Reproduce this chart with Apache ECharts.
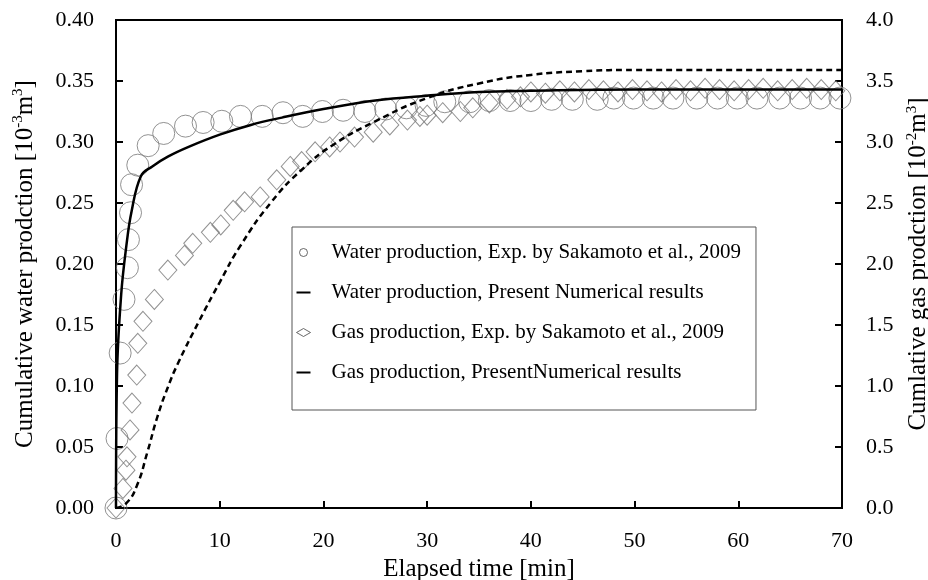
<!DOCTYPE html>
<html>
<head>
<meta charset="utf-8">
<title>Cumulative water and gas production</title>
<script src="https://cdn.jsdelivr.net/npm/echarts@6/dist/echarts.min.js"></script>
<style>
  html, body { margin: 0; padding: 0; background: #fff; }
  #chart { width: 928px; height: 580px; }
</style>
</head>
<body>
<div id="chart"></div>
<script>
// Water production, experiment (Sakamoto et al., 2009) - left axis [10^-3 m3]
const waterExpTime = [0, 0.1, 0.4, 0.77, 1.1, 1.2, 1.4, 1.5, 2.1, 3.1, 4.6, 6.7, 8.4, 10.2, 12.0, 14.1, 16.1, 18.0, 19.9, 21.9, 24.0, 26.0, 28.0, 29.9, 31.7, 34.1, 36.0, 38.0, 40.0, 42.0, 44.0, 46.4, 48.0, 49.9, 51.8, 53.7, 56.0, 58.0, 59.9, 61.8, 64.0, 66.0, 67.9, 69.8];
const waterExpValue = [0, 0.057, 0.127, 0.171, 0.197, 0.220, 0.242, 0.265, 0.281, 0.297, 0.307, 0.313, 0.316, 0.317, 0.321, 0.321, 0.324, 0.321, 0.325, 0.326, 0.325, 0.327, 0.328, 0.330, 0.333, 0.333, 0.334, 0.334, 0.334, 0.335, 0.335, 0.335, 0.336, 0.336, 0.336, 0.336, 0.336, 0.336, 0.336, 0.336, 0.336, 0.336, 0.336, 0.336];

// Water production, present numerical results - left axis
const waterNumTime = [0, 0.1, 0.5, 1.0, 1.5, 2.4, 3.5, 5, 7, 10, 13, 16, 20, 25, 30, 35, 40, 50, 60, 70];
const waterNumValue = [0, 0.11, 0.175, 0.215, 0.243, 0.272, 0.280, 0.288, 0.296, 0.306, 0.314, 0.320, 0.327, 0.334, 0.338, 0.341, 0.342, 0.343, 0.343, 0.343];

// Gas production, experiment - right axis [10^-2 m3]
const gasExpTime = [0, 0.67, 0.96, 1.06, 1.35, 1.54, 2.0, 2.1, 2.6, 3.7, 5.0, 6.6, 7.4, 9.1, 10.1, 11.3, 12.4, 13.9, 15.5, 16.8, 17.9, 19.2, 20.6, 21.6, 23.0, 24.8, 26.4, 28.1, 29.3, 30.0, 31.5, 33.2, 34.4, 36.0, 37.7, 39.0, 40.0, 41.4, 42.8, 44.2, 45.6, 47.0, 48.4, 49.8, 51.2, 52.6, 54.0, 55.4, 56.8, 58.2, 59.6, 61.0, 62.4, 63.8, 65.2, 66.6, 68.0, 69.4];
const gasExpValue = [0, 0.16, 0.31, 0.42, 0.64, 0.86, 1.09, 1.35, 1.53, 1.71, 1.95, 2.07, 2.17, 2.26, 2.32, 2.44, 2.51, 2.55, 2.69, 2.80, 2.84, 2.92, 2.96, 3.00, 3.04, 3.08, 3.14, 3.18, 3.21, 3.22, 3.24, 3.25, 3.28, 3.32, 3.35, 3.37, 3.41, 3.40, 3.42, 3.41, 3.43, 3.42, 3.41, 3.43, 3.42, 3.41, 3.43, 3.42, 3.44, 3.43, 3.42, 3.43, 3.44, 3.42, 3.43, 3.44, 3.43, 3.42];

// Gas production, present numerical results - right axis
const gasNumTime = [0, 1, 2, 3, 4, 5, 6, 8, 10, 12, 15, 18, 21, 25, 30, 35, 40, 45, 50, 70];
const gasNumValue = [0, 0.04, 0.18, 0.45, 0.75, 0.99, 1.19, 1.53, 1.85, 2.15, 2.51, 2.78, 2.98, 3.17, 3.36, 3.48, 3.55, 3.58, 3.59, 3.59];

const seriesNames = [
  'Water production, Exp. by Sakamoto et al., 2009',
  'Water production, Present Numerical results',
  'Gas production, Exp. by Sakamoto et al., 2009',
  'Gas production, PresentNumerical results'
];

const zip = (xs, ys) => xs.map((x, i) => [x, ys[i]]);

const FONT = '"Liberation Serif", "DejaVu Serif", serif';
const DASH_ICON = 'path://M0,0 L14,0 L14,2 L0,2 Z';
const supStyle = { fontFamily: FONT, fontSize: 15, lineHeight: 15, verticalAlign: 'top', color: '#000' };

const chart = echarts.init(document.getElementById('chart'));

const option = {
  backgroundColor: '#fff',
  animation: false,
  textStyle: { fontFamily: FONT, color: '#000' },
  grid: {
    left: 116, right: 86, top: 20, bottom: 72,
    outerBoundsMode: 'none',
    show: true, borderColor: '#000', borderWidth: 2
  },
  legend: {
    orient: 'vertical',
    left: 292, top: 227,
    padding: [15, 15, 27, 4],
    borderColor: '#555', borderWidth: 1,
    itemWidth: 14, itemHeight: 8, itemGap: 19,
    textStyle: { fontFamily: FONT, fontSize: 21, color: '#000', lineHeight: 20, padding: [0, 0, 0, 16] },
    data: [
      { name: seriesNames[0], icon: 'circle', itemStyle: { color: '#fff', borderColor: '#444', borderWidth: 1 } },
      { name: seriesNames[1], icon: DASH_ICON, itemStyle: { color: '#000', borderWidth: 0 } },
      { name: seriesNames[2], icon: 'diamond', itemStyle: { color: '#fff', borderColor: '#444', borderWidth: 1 } },
      { name: seriesNames[3], icon: DASH_ICON, itemStyle: { color: '#000', borderWidth: 0 } }
    ]
  },
  xAxis: {
    type: 'value', min: 0, max: 70, interval: 10,
    name: 'Elapsed time [min]', nameLocation: 'middle', nameGap: 44,
    nameTextStyle: { fontFamily: FONT, fontSize: 25, color: '#000' },
    axisLine: { lineStyle: { color: '#000', width: 2 } },
    axisTick: { inside: true, length: 7, lineStyle: { color: '#000', width: 2 } },
    axisLabel: { fontFamily: FONT, fontSize: 22, color: '#000', margin: 22 },
    splitLine: { show: false }
  },
  yAxis: [
    {
      type: 'value', min: 0, max: 0.4, interval: 0.05, position: 'left',
      name: 'Cumulative water prodction [10{s|-3}m{s|3}]',
      nameLocation: 'middle', nameGap: 77, nameRotate: 90,
      nameTextStyle: {
        fontFamily: FONT, fontSize: 25, color: '#000', lineHeight: 28,
        rich: { s: supStyle }
      },
      axisLine: { show: true, lineStyle: { color: '#000', width: 2 } },
      axisTick: { show: true, inside: true, length: 7, lineStyle: { color: '#000', width: 2 } },
      axisLabel: { fontFamily: FONT, fontSize: 22, color: '#000', margin: 22, formatter: v => v.toFixed(2) },
      splitLine: { show: false }
    },
    {
      type: 'value', min: 0, max: 4, interval: 0.5, position: 'right',
      name: 'Cumlative gas prodction [10{s|-2}m{s|3}]',
      nameLocation: 'middle', nameGap: 56, nameRotate: 90,
      nameTextStyle: {
        fontFamily: FONT, fontSize: 25, color: '#000', lineHeight: 28,
        rich: { s: supStyle }
      },
      axisLine: { show: true, lineStyle: { color: '#000', width: 2 } },
      axisTick: { show: true, inside: true, length: 7, lineStyle: { color: '#000', width: 2 } },
      axisLabel: { fontFamily: FONT, fontSize: 22, color: '#000', margin: 24, formatter: v => v.toFixed(1) },
      splitLine: { show: false }
    }
  ],
  series: [
    {
      name: seriesNames[0], type: 'scatter', yAxisIndex: 0, clip: false,
      symbol: 'circle', symbolSize: 22,
      itemStyle: { color: 'rgba(255,255,255,0)', borderColor: '#777', borderWidth: 1 },
      data: zip(waterExpTime, waterExpValue), z: 3
    },
    {
      name: seriesNames[1], type: 'line', yAxisIndex: 0,
      symbol: 'none', smooth: 0.4,
      lineStyle: { color: '#000', width: 2.5 },
      itemStyle: { color: '#000' },
      data: zip(waterNumTime, waterNumValue), z: 4
    },
    {
      name: seriesNames[2], type: 'scatter', yAxisIndex: 1, clip: false,
      symbol: 'diamond', symbolSize: [18, 20],
      itemStyle: { color: 'rgba(255,255,255,0)', borderColor: '#777', borderWidth: 1 },
      data: zip(gasExpTime, gasExpValue), z: 3
    },
    {
      name: seriesNames[3], type: 'line', yAxisIndex: 1,
      symbol: 'none', smooth: 0.5,
      lineStyle: { color: '#000', width: 2.5, type: [6, 4] },
      itemStyle: { color: '#000' },
      data: zip(gasNumTime, gasNumValue), z: 4
    }
  ]
};

chart.setOption(option);
</script>
</body>
</html>
